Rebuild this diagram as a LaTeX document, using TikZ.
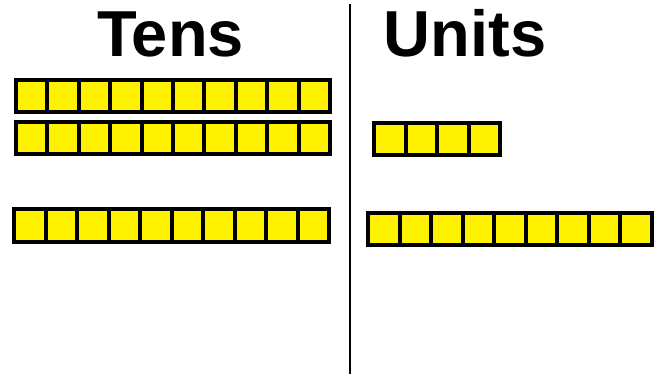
\documentclass[tikz,border=0pt]{standalone}
\usepackage{fontspec}
\setmainfont{Liberation Sans}
\tikzset{
  cellfill/.style={fill=yellow},
  cellline/.style={draw=black,line width=4pt},
  divider/.style={draw=black,line width=1.6pt},
  heading/.style={font=\fontsize{65}{70}\selectfont\bfseries,anchor=base,inner sep=0pt}
}
\newcommand\unitbar[5]{%
  \fill[cellfill] (#1,#2) rectangle (#3,#4);
  \draw[cellline] ({#1+2},{#2+2}) rectangle ({#3-2},{#4-2});
  \pgfmathtruncatemacro\nm{#5-1}
  \foreach \i in {1,...,\nm}{
    \draw[cellline] ({#1+2+(#3-#1-4)*\i/#5},{#2+2}) -- ({#1+2+(#3-#1-4)*\i/#5},{#4-2});
  }
}
\begin{document}
\begin{tikzpicture}[x=1pt,y=-1pt]
\useasboundingbox (0,0) rectangle (664,374);
\node[heading] (tens) at (170.5,57) {Tens};
\node[heading] (units) at (465,57) {Units};
\coordinate (ltop) at (350,4);
\coordinate (lbot) at (350,374);
\draw[divider] (ltop) -- (lbot);
\unitbar{14}{78}{332}{114}{10}
\unitbar{14}{120}{332}{156}{10}
\unitbar{12}{207}{331}{244}{10}
\unitbar{372}{121}{502}{157}{4}
\unitbar{366}{211}{654}{247}{9}
\end{tikzpicture}
\end{document}
